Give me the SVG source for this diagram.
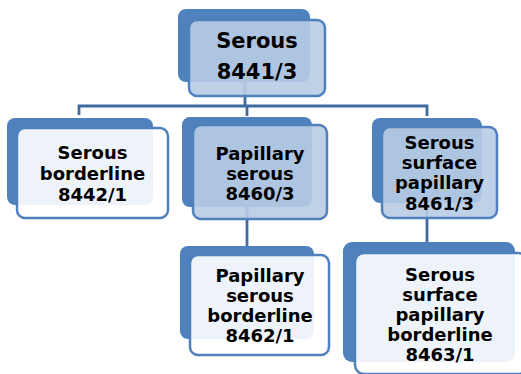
<svg xmlns="http://www.w3.org/2000/svg" width="521" height="374" viewBox="0 0 521 374">
  <style>
    .back { fill: #4F81BD; }
    .front { stroke: #4F81BD; stroke-width: 2.5; }
    .lvl1 { fill: rgba(184,204,228,0.9); }
    .lvl2 { fill: rgba(255,255,255,0.9); }
    .lbl { font-family: "DejaVu Sans", Verdana, sans-serif; font-weight: bold; fill: #000; text-anchor: middle; }
    .edge { fill: none; stroke: #3F6AA2; stroke-width: 2.8; }
  </style>
  <rect width="521" height="374" fill="#fff"/>

  <!-- connectors, drawn beneath the boxes -->
  <g id="connectors">
    <path class="edge" d="M245 60 V106"/>
    <path class="edge" d="M79 115 V106 H427 V116"/>
    <path class="edge" d="M247 106 V116"/>
    <path class="edge" d="M247 200 V247"/>
    <path class="edge" d="M427 200 V243"/>
  </g>

  <g id="n-serous">
    <rect class="back" x="178" y="9" width="132" height="73" rx="8"/>
    <rect class="front lvl1" x="189" y="20" width="136" height="76" rx="8"/>
    <text class="lbl" font-size="21" x="257"><tspan y="48">Serous</tspan><tspan x="257" y="79">8441/3</tspan></text>
  </g>

  <g id="n-serous-borderline">
    <rect class="back" x="7" y="118" width="146" height="87" rx="8"/>
    <rect class="front lvl2" x="17" y="128" width="151" height="90" rx="8"/>
    <text class="lbl" font-size="18" x="92.5"><tspan y="159">Serous</tspan><tspan x="92.5" y="180">borderline</tspan><tspan x="92.5" y="201">8442/1</tspan></text>
  </g>

  <g id="n-papillary-serous">
    <rect class="back" x="182" y="117" width="130" height="90" rx="8"/>
    <rect class="front lvl1" x="193" y="125" width="134" height="94" rx="8"/>
    <text class="lbl" font-size="18" x="260"><tspan y="160">Papillary</tspan><tspan x="260" y="180">serous</tspan><tspan x="260" y="200">8460/3</tspan></text>
  </g>

  <g id="n-serous-surface-papillary">
    <rect class="back" x="372" y="118" width="110" height="85" rx="8"/>
    <rect class="front lvl1" x="382" y="127" width="115" height="91" rx="8"/>
    <text class="lbl" font-size="18" x="439.5"><tspan y="148.5">Serous</tspan><tspan x="439.5" y="168.5">surface</tspan><tspan x="439.5" y="188.5">papillary</tspan><tspan x="439.5" y="209.5">8461/3</tspan></text>
  </g>

  <g id="n-papillary-serous-borderline">
    <rect class="back" x="180" y="246" width="134" height="93" rx="8"/>
    <rect class="front lvl2" x="190" y="255" width="139" height="100" rx="8"/>
    <text class="lbl" font-size="18" x="260"><tspan y="282">Papillary</tspan><tspan x="260" y="302">serous</tspan><tspan x="260" y="322">borderline</tspan><tspan x="260" y="342">8462/1</tspan></text>
  </g>

  <g id="n-serous-surface-papillary-borderline">
    <rect class="back" x="343" y="242" width="172" height="120" rx="9"/>
    <rect class="front lvl2" x="355" y="253" width="172" height="121" rx="9"/>
    <text class="lbl" font-size="18" x="440"><tspan y="280.5">Serous</tspan><tspan x="440" y="300.5">surface</tspan><tspan x="440" y="320.5">papillary</tspan><tspan x="440" y="341">borderline</tspan><tspan x="440" y="361">8463/1</tspan></text>
  </g>
</svg>
